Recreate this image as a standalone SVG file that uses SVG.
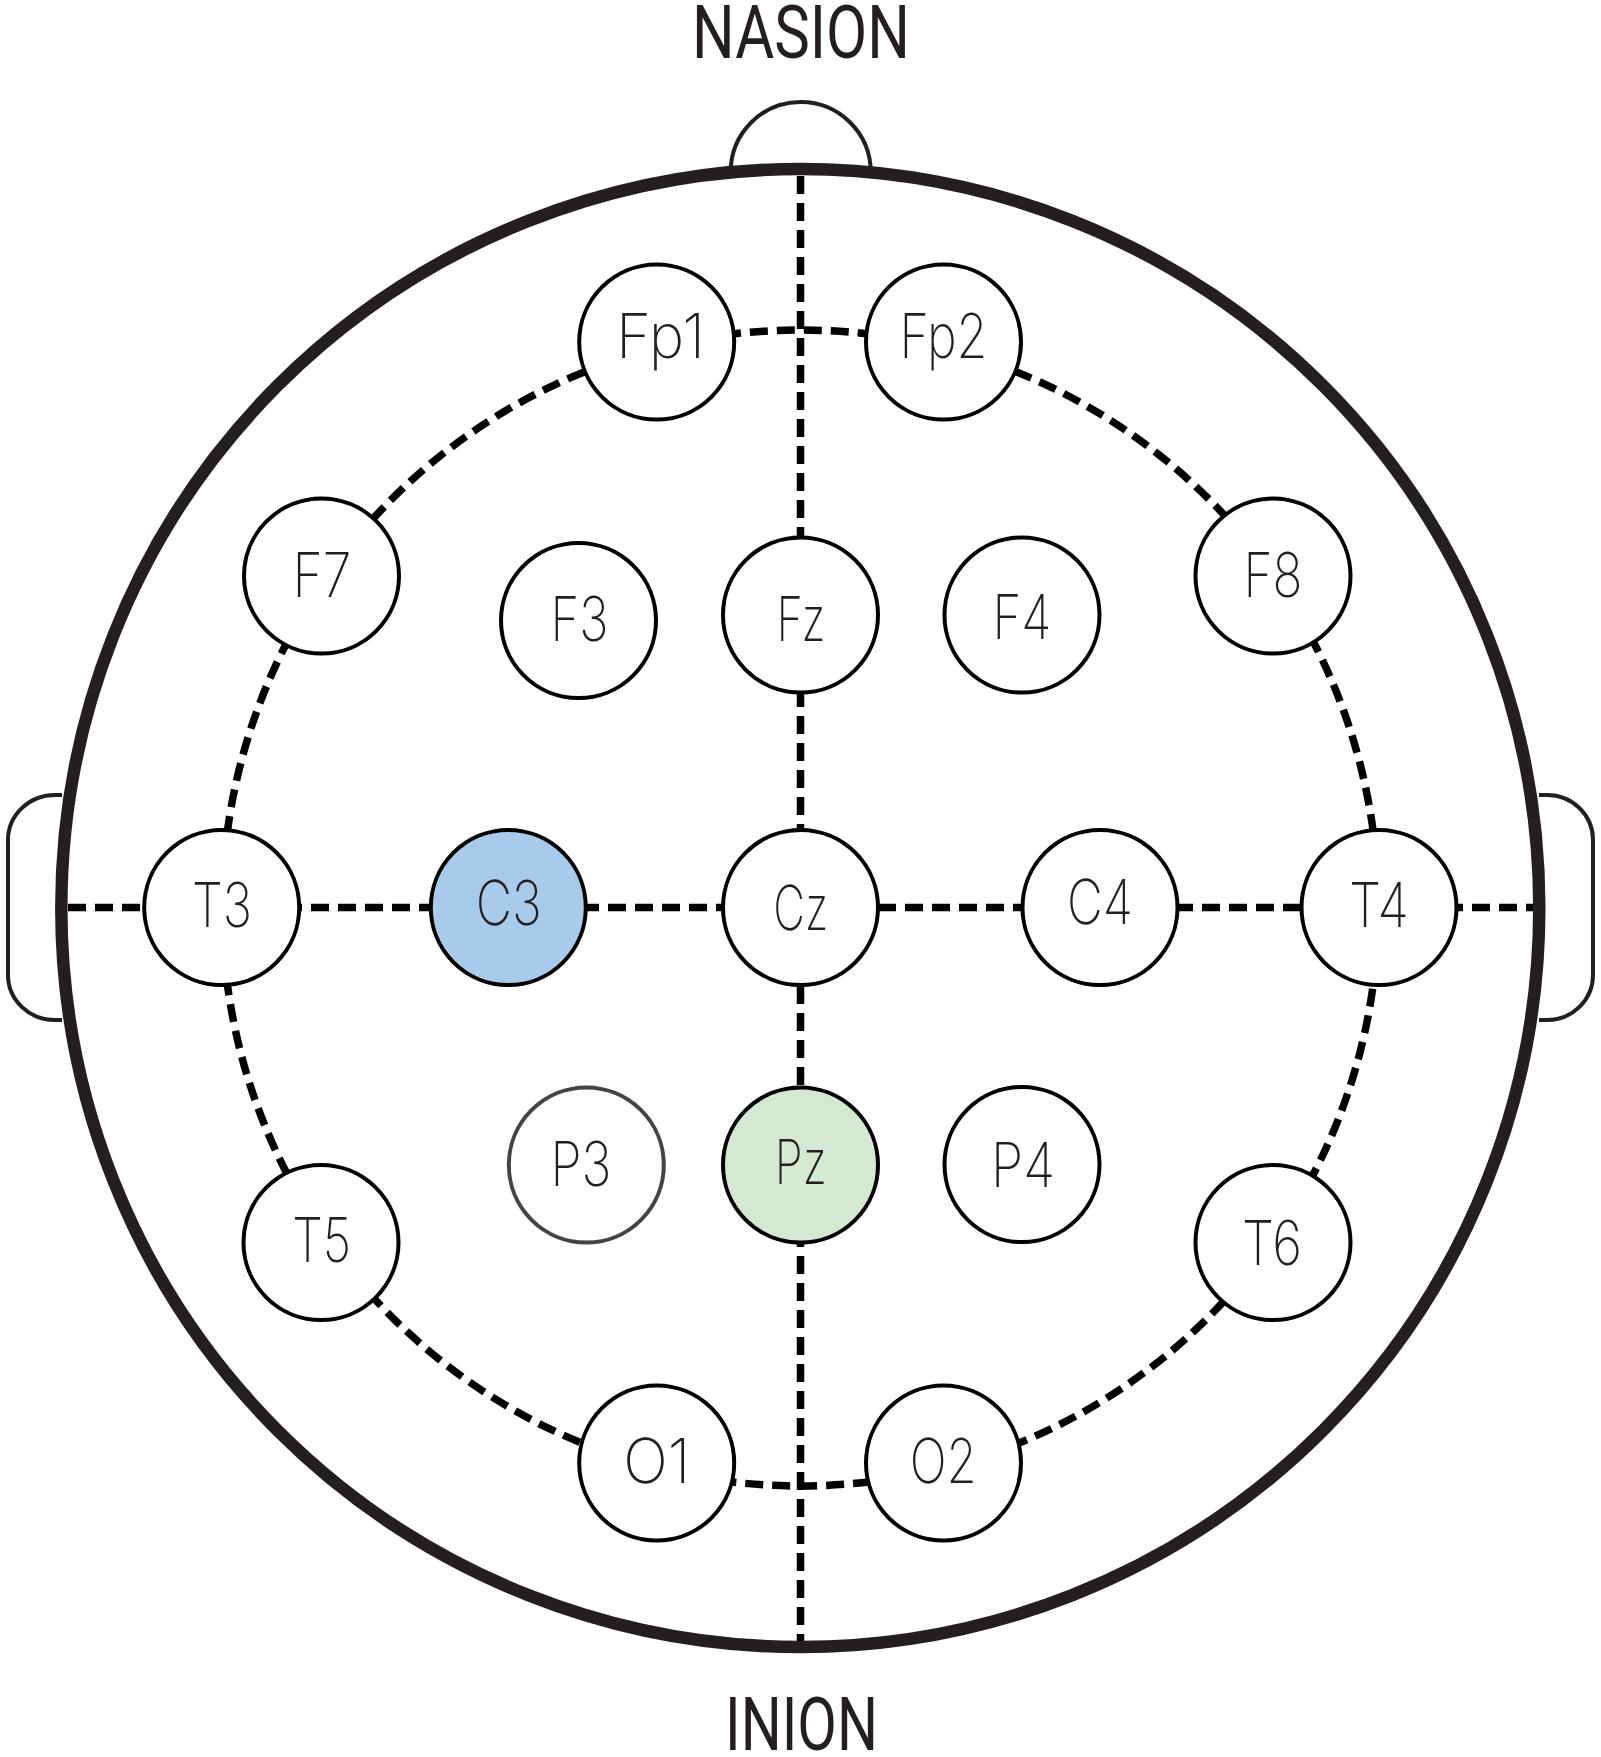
<svg xmlns="http://www.w3.org/2000/svg" width="1601" height="1757" viewBox="0 0 1601 1757">
<style>
.head{fill:none;stroke:#231f20;stroke-width:12.5}
.thin{fill:none;stroke:#231f20;stroke-width:4}
.dash{fill:none;stroke:#000;stroke-width:7.5;stroke-dasharray:18 9}
.node{fill:#fff;stroke:#000;stroke-width:4}
.lbl{font-family:Inter,Roboto,"Liberation Sans",sans-serif;font-weight:200;font-size:62px;fill:#231f20;text-anchor:middle}
.big{font-family:Roboto,"Liberation Sans",sans-serif;font-weight:400;font-size:74px;fill:#231f20;text-anchor:middle}
</style>
<rect width="1601" height="1757" fill="#fff"/>
<g id="head">
<path class="thin" d="M730.7,172 A70,70 0 0 1 870.7,172"/>
<path class="thin" d="M62,795 H55 A47,45 0 0 0 8,840 V975 A47,45 0 0 0 55,1020 H62"/>
<path class="thin" d="M1539,795 H1547 A46,45 0 0 1 1593,840 V975 A46,45 0 0 1 1547,1020 H1539"/>
<circle class="head" cx="800.3" cy="908" r="739"/>
</g>
<text class="big" x="801" y="58" textLength="218" lengthAdjust="spacingAndGlyphs">NASION</text>
<text class="big" x="801.5" y="1750" textLength="153" lengthAdjust="spacingAndGlyphs">INION</text>
<g id="connectors">
<circle class="dash" cx="800.3" cy="908" r="578"/>
<line class="dash" x1="68" y1="907.5" x2="1533" y2="907.5"/>
<line class="dash" x1="800.5" y1="176" x2="800.5" y2="1641"/>
</g>
<g id="Fp1"><circle class="node" cx="656.7" cy="342" r="77.5"/><text class="lbl" x="660.5" y="358" textLength="89" lengthAdjust="spacingAndGlyphs">Fp1</text></g>
<g id="Fp2"><circle class="node" cx="943.5" cy="342" r="77.5"/><text class="lbl" x="943.5" y="358" textLength="88" lengthAdjust="spacingAndGlyphs">Fp2</text></g>
<g id="F7"><circle class="node" cx="321.5" cy="576" r="77.5"/><text class="lbl" x="322" y="597" textLength="59" lengthAdjust="spacingAndGlyphs">F7</text></g>
<g id="F3"><circle class="node" cx="578.5" cy="620.5" r="77.5"/><text class="lbl" x="579.4" y="640.5" textLength="58" lengthAdjust="spacingAndGlyphs">F3</text></g>
<g id="Fz"><circle class="node" cx="800.5" cy="615" r="77.5"/><text class="lbl" x="801" y="640.5" textLength="49" lengthAdjust="spacingAndGlyphs">Fz</text></g>
<g id="F4"><circle class="node" cx="1022" cy="615" r="77.5"/><text class="lbl" x="1022" y="639.3" textLength="59" lengthAdjust="spacingAndGlyphs">F4</text></g>
<g id="F8"><circle class="node" cx="1273" cy="576" r="77.5"/><text class="lbl" x="1273" y="597.3" textLength="59" lengthAdjust="spacingAndGlyphs">F8</text></g>
<g id="T3"><circle class="node" cx="221.7" cy="907.5" r="77.5"/><text class="lbl" x="222" y="927.3" textLength="60" lengthAdjust="spacingAndGlyphs">T3</text></g>
<g id="C3"><circle class="node" style="fill:#a8cbec" cx="508.3" cy="907.5" r="77.5"/><text class="lbl" x="508.8" y="925" textLength="66" lengthAdjust="spacingAndGlyphs">C3</text></g>
<g id="Cz"><circle class="node" cx="800.5" cy="907.5" r="77.5"/><text class="lbl" x="800.8" y="929.5" textLength="55" lengthAdjust="spacingAndGlyphs">Cz</text></g>
<g id="C4"><circle class="node" cx="1100" cy="907.5" r="77.5"/><text class="lbl" x="1100" y="924" textLength="66" lengthAdjust="spacingAndGlyphs">C4</text></g>
<g id="T4"><circle class="node" cx="1379" cy="907.5" r="77.5"/><text class="lbl" x="1379" y="927.3" textLength="60" lengthAdjust="spacingAndGlyphs">T4</text></g>
<g id="T5"><circle class="node" cx="321" cy="1242.5" r="77.5"/><text class="lbl" x="321.7" y="1261.7" textLength="59" lengthAdjust="spacingAndGlyphs">T5</text></g>
<g id="P3"><circle class="node" style="fill:#fdfdfd;stroke:#444" cx="586.3" cy="1165" r="77.5"/><text class="lbl" x="581" y="1186" textLength="61" lengthAdjust="spacingAndGlyphs">P3</text></g>
<g id="Pz"><circle class="node" style="fill:#d5e8d4" cx="800.5" cy="1165" r="77.5"/><text class="lbl" x="800.8" y="1183.5" textLength="52" lengthAdjust="spacingAndGlyphs">Pz</text></g>
<g id="P4"><circle class="node" cx="1022" cy="1164.5" r="77.5"/><text class="lbl" x="1023" y="1187.3" textLength="64" lengthAdjust="spacingAndGlyphs">P4</text></g>
<g id="T6"><circle class="node" cx="1273" cy="1242.5" r="77.5"/><text class="lbl" x="1272" y="1265" textLength="60" lengthAdjust="spacingAndGlyphs">T6</text></g>
<g id="O1"><circle class="node" cx="656.7" cy="1463" r="77.5"/><text class="lbl" x="656.7" y="1483.3" textLength="67" lengthAdjust="spacingAndGlyphs">O1</text></g>
<g id="O2"><circle class="node" cx="943.5" cy="1463" r="77.5"/><text class="lbl" x="943.3" y="1483.3" textLength="67" lengthAdjust="spacingAndGlyphs">O2</text></g>
</svg>
